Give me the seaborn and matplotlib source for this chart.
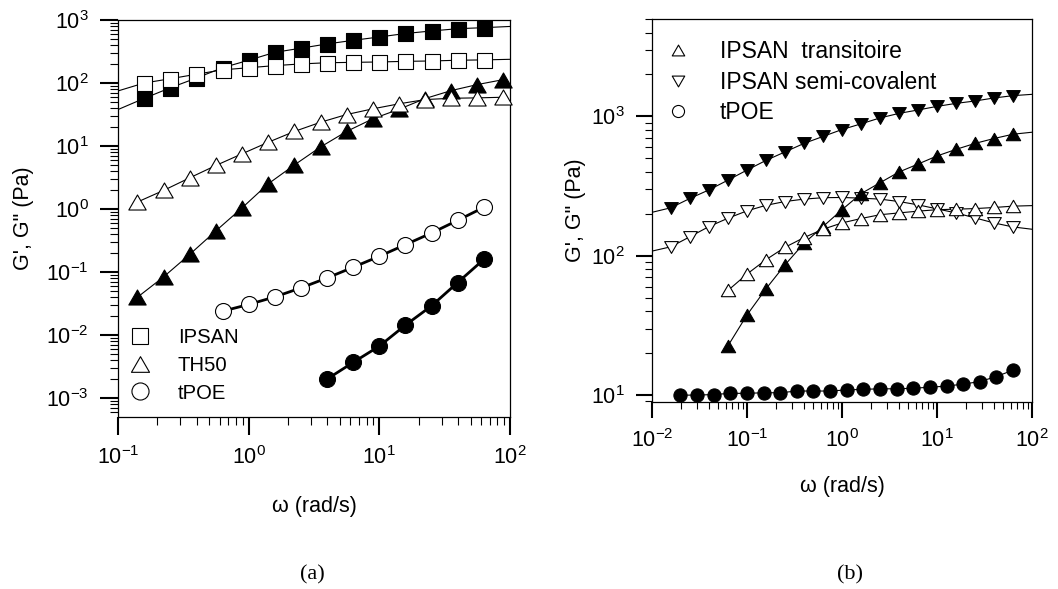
import numpy as np
import matplotlib
matplotlib.use("Agg")
import matplotlib.pyplot as plt
from matplotlib.path import Path
from matplotlib.lines import Line2D
from matplotlib.ticker import LogLocator, NullFormatter
import seaborn as sns

# ---------------- data: panel (a) ----------------
ipsan_w = [0.158, 0.251, 0.398, 0.631, 1.0, 1.585, 2.51, 3.98, 6.31, 10.0, 15.85, 25.1, 39.8, 63.1]
ipsan_Gp = [57, 84, 120, 175, 230, 307, 357, 417, 476, 538, 611, 670, 728, 756]
ipsan_Gpp = [100, 117, 138, 162, 175, 189, 201, 210, 213, 216, 221, 224, 230, 233]
ipsan_fit_w = [0.1, 100]          # fitted curves run to the frame
ipsan_Gp_fit_ends = [38, 790]
ipsan_Gpp_fit_ends = [75, 238]

th50_w = [0.141, 0.224, 0.355, 0.562, 0.891, 1.41, 2.24, 3.55, 5.62, 8.91, 14.1, 22.4, 35.5, 56.2, 89.1]
th50_Gp = [0.0402, 0.0848, 0.193, 0.454, 1.05, 2.52, 5.03, 9.69, 17.1, 27.1, 38.3, 56.8, 76, 94.6, 113.5]
th50_Gpp = [1.30, 1.99, 3.15, 4.94, 7.56, 11.5, 17.1, 23.9, 31.7, 39.0, 46.8, 54.7, 57.4, 58.2, 59.6]

tpoe_w_pp = [0.631, 1.0, 1.585, 2.51, 3.98, 6.31, 10.0, 15.85, 25.1, 39.8, 63.1]
tpoe_Gpp = [0.0241, 0.0308, 0.0406, 0.0564, 0.0811, 0.120, 0.179, 0.274, 0.419, 0.665, 1.07]
tpoe_w_p = [3.98, 6.31, 10.0, 15.85, 25.1, 39.8, 63.1]
tpoe_Gp = [0.00202, 0.00372, 0.00673, 0.0145, 0.0293, 0.0687, 0.160]

labels_a = ["IPSAN", "TH50", "tPOE"]

# ---------------- data: panel (b) ----------------
semi_w = [0.0158, 0.0251, 0.0398, 0.0631, 0.1, 0.158, 0.251, 0.398, 0.631, 1.0,
          1.585, 2.51, 3.98, 6.31, 10.0, 15.85, 25.1, 39.8, 63.1]
semi_Gp = [221, 258, 297, 349, 412, 483, 556, 640, 718, 805, 884, 975, 1051, 1112,
           1180, 1240, 1290, 1356, 1409]
semi_Gpp = [116, 137, 162, 186, 210, 230, 245, 255, 261, 262, 259, 255, 245, 232,
            217, 203, 187, 172, 161]
semi_fit_w = [0.01, 100]
semi_Gp_fit_ends = [205, 1440]
semi_Gpp_fit_ends = [108, 155]

trans_w = [0.0631, 0.1, 0.158, 0.251, 0.398, 0.631, 1.0, 1.585, 2.51, 3.98, 6.31,
           10.0, 15.85, 25.1, 39.8, 63.1]
trans_Gp = [22.6, 37.6, 57.8, 86, 123, 162, 214, 279, 334, 399, 455, 520, 580, 640, 694, 745]
trans_Gpp = [56.4, 73.9, 93.6, 115, 135, 155, 172, 185, 197, 203, 209, 214, 216, 218, 222, 227]
trans_fit_end_w = 100
trans_Gp_fit_end = 770
trans_Gpp_fit_end = 229

tpoe2_w = [0.01995, 0.0299, 0.0447, 0.0668, 0.1, 0.150, 0.224, 0.335, 0.501, 0.750, 1.122,
           1.679, 2.512, 3.758, 5.623, 8.414, 12.59, 18.84, 28.18, 42.17, 63.1]
tpoe2_Gp = [10.0, 10.0, 10.1, 10.3, 10.3, 10.4, 10.4, 10.7, 10.7, 10.7, 10.9, 11.0, 11.1,
            11.1, 11.2, 11.4, 11.6, 12.0, 12.5, 13.6, 15.1]

labels_b = ["IPSAN  transitoire", "IPSAN semi-covalent", "tPOE"]

# ---------------- style ----------------
sns.set_theme(style="ticks")
plt.rcParams["font.family"] = ["Liberation Sans", "DejaVu Sans"]
plt.rcParams.update({
    "mathtext.fontset": "custom",
    "mathtext.rm": "Liberation Sans",
    "mathtext.it": "Liberation Sans:italic",
    "mathtext.bf": "Liberation Sans:bold",
    "text.color": "black",
    "axes.labelcolor": "black",
    "xtick.color": "black",
    "ytick.color": "black",
    "axes.edgecolor": "black",
})

TRI_UP = Path([(0, 0.866), (-1, -0.866), (1, -0.866), (0, 0.866)],
              [Path.MOVETO, Path.LINETO, Path.LINETO, Path.CLOSEPOLY])
TRI_DN = Path([(0, -0.866), (-1, 0.866), (1, 0.866), (0, -0.866)],
              [Path.MOVETO, Path.LINETO, Path.LINETO, Path.CLOSEPOLY])

W, H = 1058, 589
fig = plt.figure(figsize=(W / 100, H / 100), dpi=100)
axA = fig.add_axes([118 / W, 1 - 417 / H, (510 - 118) / W, (417 - 20) / H])
axB = fig.add_axes([652 / W, 1 - 401.7 / H, (1032 - 652) / W, (401.7 - 19) / H])
for ax in (axA, axB):
    ax.set_xscale("log")
    ax.set_yscale("log")


def series(ax, x, y, marker, size, filled, lw=0.8, lx=None, ly=None, z=3):
    lx = x if lx is None else lx
    ly = y if ly is None else ly
    sns.lineplot(x=lx, y=ly, ax=ax, color="black", lw=lw, estimator=None,
                 sort=False, legend=False, zorder=2)
    sns.scatterplot(x=x, y=y, ax=ax, marker=marker, s=size ** 2,
                    color="black" if filled else "white", edgecolor="black",
                    linewidth=0.8, legend=False, zorder=z, clip_on=False)


# panel (a)
series(axA, ipsan_w, ipsan_Gp, "s", 10.8, True,
       lx=[ipsan_fit_w[0]] + ipsan_w + [ipsan_fit_w[1]],
       ly=[ipsan_Gp_fit_ends[0]] + ipsan_Gp + [ipsan_Gp_fit_ends[1]], z=3)
series(axA, ipsan_w, ipsan_Gpp, "s", 10.8, False,
       lx=[ipsan_fit_w[0]] + ipsan_w + [ipsan_fit_w[1]],
       ly=[ipsan_Gpp_fit_ends[0]] + ipsan_Gpp + [ipsan_Gpp_fit_ends[1]], z=4)
series(axA, th50_w, th50_Gp, TRI_UP, 12.5, True, z=5)
series(axA, th50_w, th50_Gpp, TRI_UP, 12.5, False, z=6)
series(axA, tpoe_w_pp, tpoe_Gpp, "o", 11.5, False, lw=2.0, z=7)
series(axA, tpoe_w_p, tpoe_Gp, "o", 11.5, True, lw=2.0, z=8)

# panel (b)
series(axB, semi_w, semi_Gp, TRI_DN, 9.8, True,
       lx=[semi_fit_w[0]] + semi_w + [semi_fit_w[1]],
       ly=[semi_Gp_fit_ends[0]] + semi_Gp + [semi_Gp_fit_ends[1]], z=3)
series(axB, semi_w, semi_Gpp, TRI_DN, 9.8, False,
       lx=[semi_fit_w[0]] + semi_w + [semi_fit_w[1]],
       ly=[semi_Gpp_fit_ends[0]] + semi_Gpp + [semi_Gpp_fit_ends[1]], z=4)
series(axB, trans_w, trans_Gp, TRI_UP, 10.3, True,
       lx=trans_w + [trans_fit_end_w], ly=trans_Gp + [trans_Gp_fit_end], z=5)
series(axB, trans_w, trans_Gpp, TRI_UP, 10.3, False,
       lx=trans_w + [trans_fit_end_w], ly=trans_Gpp + [trans_Gpp_fit_end], z=6)
series(axB, tpoe2_w, tpoe2_Gp, "o", 9.5, True, lw=0.8, z=7)

# axes cosmetics
axA.set_xlim(0.1, 100)
axA.set_ylim(5.06e-4, 1e3)
axB.set_xlim(0.01, 100)
axB.set_ylim(8.97, 5000)

for ax, (maj, mnr) in ((axA, (13, 6)), (axB, (11.5, 5))):
    for axis in (ax.xaxis, ax.yaxis):
        axis.set_major_locator(LogLocator(base=10, numticks=20))
        axis.set_minor_locator(LogLocator(base=10, subs=np.arange(2, 10), numticks=20))
        axis.set_minor_formatter(NullFormatter())
    ax.tick_params(which="major", direction="out", length=maj, width=1.5,
                   labelsize=15.5, pad=8, colors="black")
    ax.tick_params(which="minor", direction="out", length=mnr, width=0.8, colors="black")
    for sp in ax.spines.values():
        sp.set_linewidth(0.9)
        sp.set_color("black")
    ax.set_xlabel("\u03c9 (rad/s)", fontsize=15.5)
    ax.set_ylabel("G', G\" (Pa)", fontsize=15.5)
    ax.xaxis.label.set_va("center")
    ax.yaxis.label.set_va("center")

axA.xaxis.set_label_coords(0.5, (417 - 506.7) / 397)
axA.yaxis.set_label_coords((23 - 118) / 392, 0.5)
axB.xaxis.set_label_coords(0.5, (401.7 - 486.7) / 382.7)
axB.yaxis.set_label_coords((575 - 652) / 380, 0.5)

# legends
hA = [Line2D([], [], marker="s", ms=12, mfc="white", mec="black", mew=0.8, ls="none"),
      Line2D([], [], marker=TRI_UP, ms=13, mfc="white", mec="black", mew=0.8, ls="none"),
      Line2D([], [], marker="o", ms=12.3, mfc="white", mec="black", mew=0.8, ls="none")]
axA.legend(hA, labels_a, loc="upper left", bbox_to_anchor=(0.004, 0.223),
           frameon=False, fontsize=14.6, handlelength=2.0, handletextpad=0.87,
           labelspacing=0.42, borderpad=0, borderaxespad=0)

hB = [Line2D([], [], marker=TRI_UP, ms=9, mfc="white", mec="black", mew=0.8, ls="none"),
      Line2D([], [], marker=TRI_DN, ms=9, mfc="white", mec="black", mew=0.8, ls="none"),
      Line2D([], [], marker="o", ms=8.7, mfc="white", mec="black", mew=0.8, ls="none")]
axB.legend(hB, labels_b, loc="upper left", bbox_to_anchor=(0.008, 0.945),
           frameon=False, fontsize=16.5, handlelength=2.0, handletextpad=0.83,
           labelspacing=0.33, borderpad=0, borderaxespad=0)

fig.text(312 / W, 1 - 575 / H, "(a)", ha="center", va="center",
         family=["Liberation Serif", "DejaVu Serif"], fontsize=16)
fig.text(850 / W, 1 - 575 / H, "(b)", ha="center", va="center",
         family=["Liberation Serif", "DejaVu Serif"], fontsize=16)

fig.savefig("out.png", dpi=100)
